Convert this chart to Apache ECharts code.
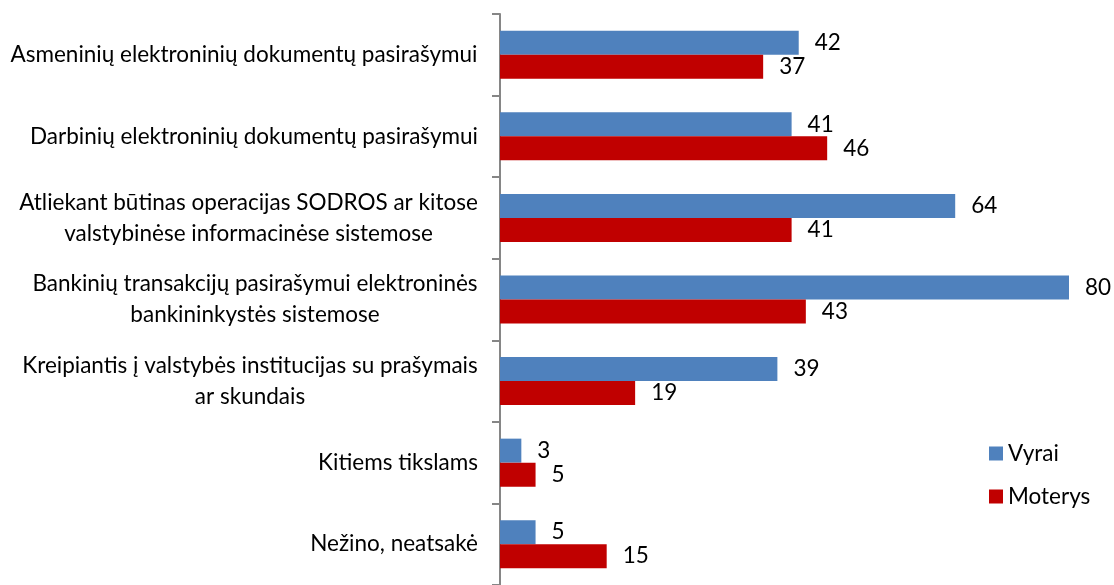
<!DOCTYPE html>
<html>
<head>
<meta charset="utf-8">
<script src="https://cdn.jsdelivr.net/npm/echarts@6/dist/echarts.min.js"></script>
<style>
  html, body { margin: 0; padding: 0; background: #fff; }
  #chart { width: 1114px; height: 585px; }
</style>
</head>
<body>
<div id="chart"></div>
<script>
const categories = [
    'Asmeninių elektroninių dokumentų pasirašymui',
    'Darbinių elektroninių dokumentų pasirašymui',
    'Atliekant būtinas operacijas SODROS ar kitose\nvalstybinėse informacinėse sistemose',
    'Bankinių transakcijų pasirašymui elektroninės\nbankininkystės sistemose',
    'Kreipiantis į valstybės institucijas su prašymais\nar skundais',
    'Kitiems tikslams',
    'Nežino, neatsakė'
];
const vyrai = [42, 41, 64, 80, 39, 3, 5];
const moterys = [37, 46, 41, 43, 19, 5, 15];

const FONT = 'Lato';
const FS = 22.5;

// measure widest line so multi-line labels can be centred inside a right-aligned block
const ctx = document.createElement('canvas').getContext('2d');
ctx.font = FS + 'px ' + FONT;
const rich = {};
categories.forEach((c, i) => {
    const w = Math.max(...c.split('\n').map(s => ctx.measureText(s).width));
    rich['c' + i] = { width: Math.ceil(w), align: 'center', fontFamily: FONT, fontSize: FS, color: '#000', lineHeight: 31 };
});

const chart = echarts.init(document.getElementById('chart'));
const option = {
    animation: false,
    textStyle: { fontFamily: FONT },
    grid: { left: 500, top: 14, right: 45, height: 576 },
    legend: {
        orient: 'vertical',
        left: 984,
        top: 437,
        icon: 'rect',
        itemWidth: 14,
        itemHeight: 14,
        itemGap: 20,
        textStyle: { fontFamily: FONT, fontSize: FS, color: '#000' },
        data: ['Vyrai', 'Moterys']
    },
    xAxis: {
        type: 'value',
        min: 0,
        max: 80,
        show: false
    },
    yAxis: {
        type: 'category',
        inverse: true,
        data: categories,
        axisLine: { show: true, lineStyle: { color: '#868686', width: 2 } },
        axisTick: { show: true, interval: 0, length: 8, lineStyle: { color: '#868686', width: 2 } },
        axisLabel: {
            interval: 0,
            margin: 22,
            align: 'right',
            formatter(value, idx) {
                return value.split('\n').map(s => '{c' + idx + '|' + s + '}').join('\n');
            },
            rich: rich
        }
    },
    series: [{
        name: 'Vyrai',
        type: 'bar',
        data: vyrai,
        barWidth: 24,
        barGap: '0%',
        itemStyle: { color: '#4F81BD' },
        label: { show: true, position: 'right', distance: 16, fontFamily: FONT, fontSize: FS, color: '#000' }
    }, {
        name: 'Moterys',
        type: 'bar',
        data: moterys,
        barWidth: 24,
        barGap: '0%',
        itemStyle: { color: '#C00000' },
        label: { show: true, position: 'right', distance: 16, fontFamily: FONT, fontSize: FS, color: '#000' }
    }]
};
chart.setOption(option);
</script>
</body>
</html>
